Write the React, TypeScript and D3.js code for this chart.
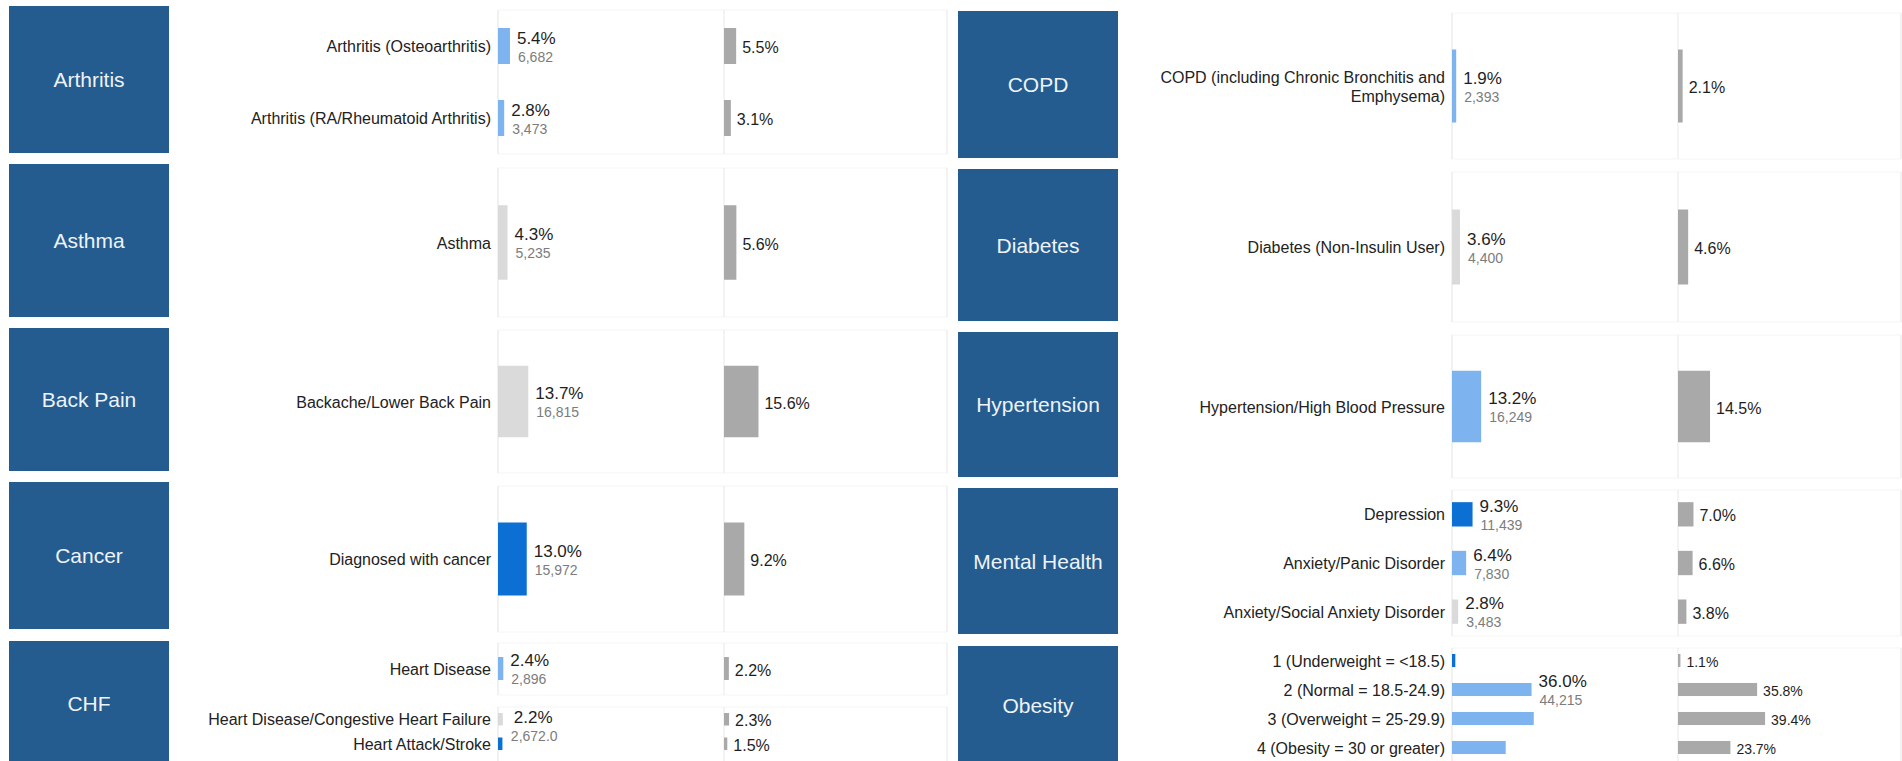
import React from "react";
import * as d3 from "d3";

// ---------- DATA ----------
const groupNames = [
  "Arthritis", "Asthma", "Back Pain", "Cancer", "CHF",
  "COPD", "Diabetes", "Hypertension", "Mental Health", "Obesity",
];

const itemGroups = [0, 0, 1, 2, 3, 4, 4, 4, 5, 6, 7, 8, 8, 8, 9, 9, 9, 9];

const itemLabels = [
  "Arthritis (Osteoarthritis)",
  "Arthritis (RA/Rheumatoid Arthritis)",
  "Asthma",
  "Backache/Lower Back Pain",
  "Diagnosed with cancer",
  "Heart Disease",
  "Heart Disease/Congestive Heart Failure",
  "Heart Attack/Stroke",
  "COPD (including Chronic Bronchitis and Emphysema)",
  "Diabetes (Non-Insulin User)",
  "Hypertension/High Blood Pressure",
  "Depression",
  "Anxiety/Panic Disorder",
  "Anxiety/Social Anxiety Disorder",
  "1 (Underweight = <18.5)",
  "2 (Normal = 18.5-24.9)",
  "3 (Overweight = 25-29.9)",
  "4 (Obesity = 30 or greater)",
];

const memberPct = [5.4, 2.8, 4.3, 13.7, 13.0, 2.4, 2.2, 2.0, 1.9, 3.6, 13.2, 9.3, 6.4, 2.8, 1.5, 36.0, 37.0, 24.3];

const memberCount: (string | null)[] = [
  "6,682", "3,473", "5,235", "16,815", "15,972", "2,896", "2,672.0", null,
  "2,393", "4,400", "16,249", "11,439", "7,830", "3,483", null, "44,215", null, null,
];

const benchmarkPct = [5.5, 3.1, 5.6, 15.6, 9.2, 2.2, 2.3, 1.5, 2.1, 4.6, 14.5, 7.0, 6.6, 3.8, 1.1, 35.8, 39.4, 23.7];

const comparison = [
  "similar", "similar", "lower", "lower", "higher", "similar", "lower", "higher",
  "similar", "lower", "similar", "higher", "similar", "lower", "higher", "similar", "similar", "similar",
];

// ---------- LAYOUT ----------
const W = 1902;
const H = 761;
const FONT = "'Liberation Sans', Arial, Helvetica, sans-serif";

const COLUMNS = [
  { boxX: 9, boxW: 160, memberAxis: 498, benchAxis: 724, right: 947 },
  { boxX: 958, boxW: 160, memberAxis: 1452, benchAxis: 1678, right: 1901 },
];

type Seg = { y: [number, number]; frame: [number, number]; pad: number; n: number };
const GROUP_LAYOUT: { col: number; box: [number, number]; segs: Seg[]; benchFont: number }[] = [
  { col: 0, box: [6, 153], segs: [{ y: [10, 154], frame: [10, 154], pad: 0.5, n: 2 }], benchFont: 16 },
  { col: 0, box: [164, 317], segs: [{ y: [168, 317], frame: [168, 317], pad: 0.5, n: 1 }], benchFont: 16 },
  { col: 0, box: [328, 471], segs: [{ y: [330, 473], frame: [330, 473], pad: 0.5, n: 1 }], benchFont: 16 },
  { col: 0, box: [482, 629], segs: [{ y: [486, 632], frame: [486, 632], pad: 0.5, n: 1 }], benchFont: 16 },
  {
    col: 0, box: [641, 764],
    segs: [
      { y: [643, 694], frame: [643, 695], pad: 0.55, n: 1 },
      { y: [707, 756], frame: [707, 764], pad: 0.49, n: 2 },
    ],
    benchFont: 16,
  },
  { col: 1, box: [11, 158], segs: [{ y: [13, 159], frame: [13, 159], pad: 0.5, n: 1 }], benchFont: 16 },
  { col: 1, box: [169, 321], segs: [{ y: [172, 322], frame: [172, 322], pad: 0.5, n: 1 }], benchFont: 16 },
  { col: 1, box: [332, 477], segs: [{ y: [335, 478], frame: [335, 478], pad: 0.5, n: 1 }], benchFont: 16 },
  { col: 1, box: [488, 634], segs: [{ y: [490, 636], frame: [490, 636], pad: 0.5, n: 3 }], benchFont: 16 },
  { col: 1, box: [646, 764], segs: [{ y: [646, 762], frame: [648, 764], pad: 0.55, n: 4 }], benchFont: 14 },
];

const COLORS: Record<string, string> = {
  higher: "#0b6fd4",
  similar: "#7db3ee",
  lower: "#dadada",
};
const BENCH_COLOR = "#a9a9a9";
const BOX_COLOR = "#245c8f";

const xScale = d3.scaleLinear().domain([0, 100]).range([0, 221]);

let measureCtx: CanvasRenderingContext2D | null = null;
function measure(text: string, font: string): number {
  if (!measureCtx) {
    const c = document.createElement("canvas");
    measureCtx = c.getContext("2d");
  }
  if (!measureCtx) return text.length * 8;
  measureCtx.font = font;
  return measureCtx.measureText(text).width;
}

function wrap(text: string, maxW: number, font: string): string[] {
  const words = text.split(" ");
  const lines: string[] = [];
  let cur = "";
  for (const w of words) {
    const test = cur ? cur + " " + w : w;
    if (measure(test, font) > maxW && cur) {
      lines.push(cur);
      cur = w;
    } else cur = test;
  }
  if (cur) lines.push(cur);
  return lines;
}

export default function App() {
  const placed = itemLabels.map((label, i) => {
    const g = itemGroups[i];
    const lay = GROUP_LAYOUT[g];
    const idxInGroup = itemGroups.slice(0, i).filter((x) => x === g).length;
    let acc = 0;
    let segIdx = 0;
    for (let s = 0; s < lay.segs.length; s++) {
      if (idxInGroup < acc + lay.segs[s].n) { segIdx = s; break; }
      acc += lay.segs[s].n;
    }
    const seg = lay.segs[segIdx];
    const band = d3
      .scaleBand<number>()
      .domain(d3.range(seg.n))
      .range(seg.y)
      .paddingInner(seg.pad)
      .paddingOuter(seg.pad / 2);
    const y = band(idxInGroup - acc) as number;
    const crowded = seg.n > 1 && band.bandwidth() < 14 && lay.segs.length > 1 && idxInGroup - acc === 0;
    return { i, g, label, y, h: band.bandwidth(), col: COLUMNS[lay.col], lay, crowded };
  });

  const labelFont = `16px ${FONT}`;

  return (
    <svg
      width={W}
      height={H}
      style={{ position: "absolute", left: 0, top: 0, background: "#fff" }}
      fontFamily={FONT}
    >
      <rect x={0} y={0} width={W} height={H} fill="#fff" />
      {groupNames.map((name, g) => {
        const lay = GROUP_LAYOUT[g];
        const col = COLUMNS[lay.col];
        return (
          <g key={name}>
            <rect x={col.boxX} y={lay.box[0]} width={col.boxW} height={lay.box[1] - lay.box[0]} fill={BOX_COLOR} />
            <text
              x={col.boxX + col.boxW / 2}
              y={(lay.box[0] + Math.min(lay.box[1], H)) / 2 + (lay.box[1] > H ? 2 : 0)}
              textAnchor="middle"
              dominantBaseline="central"
              fontSize={21}
              fill="#eef3f8"
            >
              {name}
            </text>
            {lay.segs.map((s, si) => (
              <g key={si}>
                <rect
                  x={col.memberAxis}
                  y={s.frame[0]}
                  width={col.right - col.memberAxis}
                  height={s.frame[1] - s.frame[0]}
                  fill="none"
                  stroke="#f5f5f5"
                  strokeWidth={1}
                />
                <line x1={col.memberAxis} x2={col.memberAxis} y1={s.frame[0]} y2={s.frame[1]} stroke="#e8e8e8" />
                <line x1={col.benchAxis} x2={col.benchAxis} y1={s.frame[0]} y2={s.frame[1]} stroke="#e8e8e8" />
                <line x1={col.right} x2={col.right} y1={s.frame[0]} y2={s.frame[1]} stroke="#ebebeb" />
              </g>
            ))}
          </g>
        );
      })}

      {placed.map((p) => {
        const { i, y, h, col, lay, crowded } = p;
        const cy = y + h / 2;
        const lines = wrap(p.label, 320, labelFont);
        const lh = 19;
        const mw = xScale(memberPct[i]);
        const bw = xScale(benchmarkPct[i]);
        const count = memberCount[i];
        const pctDy = crowded ? -2 : -8;
        const cntDy = crowded ? 17 : 10.5;
        return (
          <g key={i}>
            <text
              x={col.memberAxis - 7}
              y={cy - ((lines.length - 1) * lh) / 2}
              textAnchor="end"
              fontSize={16}
              fill="#222"
              dominantBaseline="central"
            >
              {lines.map((ln, li) => (
                <tspan key={li} x={col.memberAxis - 7} dy={li === 0 ? 0 : lh}>
                  {ln}
                </tspan>
              ))}
            </text>
            <rect x={col.memberAxis} y={y} width={mw} height={h} fill={COLORS[comparison[i]]} />
            {count !== null && (
              <g>
                <text
                  x={col.memberAxis + mw + (crowded ? 11 : 7)}
                  y={cy + pctDy}
                  fontSize={17}
                  fill="#1e1e1e"
                  dominantBaseline="central"
                >
                  {memberPct[i].toFixed(1) + "%"}
                </text>
                <text
                  x={col.memberAxis + mw + 8}
                  y={cy + cntDy}
                  fontSize={14}
                  fill="#7c7c7c"
                  dominantBaseline="central"
                >
                  {count}
                </text>
              </g>
            )}
            <rect x={col.benchAxis} y={y} width={bw} height={h} fill={BENCH_COLOR} />
            <text
              x={col.benchAxis + bw + 6}
              y={cy + 1.5}
              fontSize={lay.benchFont}
              fill="#1e1e1e"
              dominantBaseline="central"
            >
              {benchmarkPct[i].toFixed(1) + "%"}
            </text>
          </g>
        );
      })}
    </svg>
  );
}
